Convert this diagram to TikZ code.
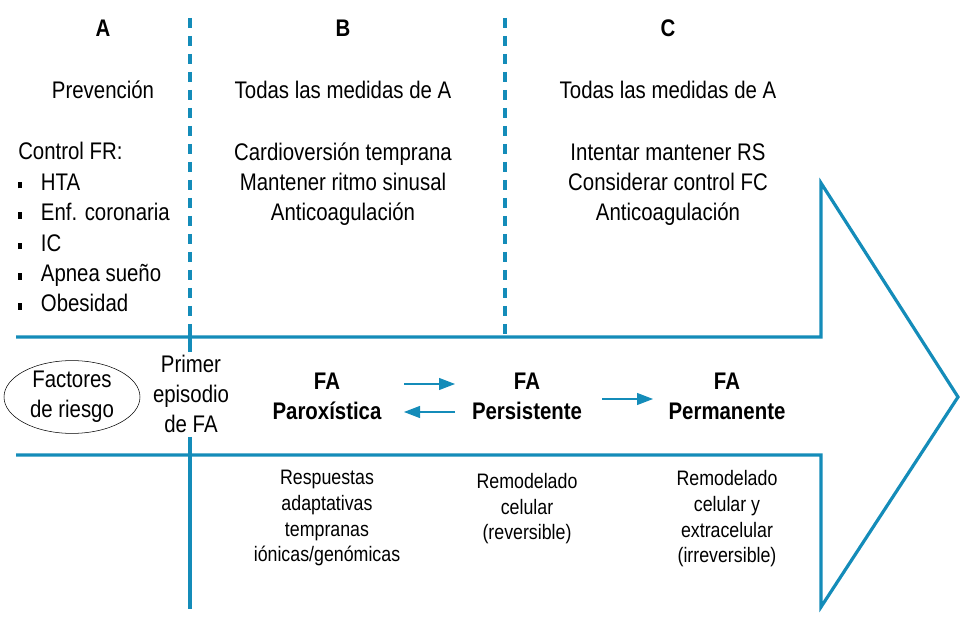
\documentclass[tikz,border=0pt]{standalone}
\usepackage{fontspec}
\setmainfont[FakeStretch=0.85]{Liberation Sans}
\usetikzlibrary{arrows.meta,shapes.geometric}
\definecolor{azul}{RGB}{20,140,185}
\newcommand{\bala}{\makebox[17pt][l]{\rule[1.5pt]{3pt}{5pt}}}

\begin{document}
\begin{tikzpicture}[x=0.75pt,y=-0.75pt,
  linea/.style={azul,line width=2.4pt},
  guion/.style={azul,line width=2.4pt,dash pattern=on 7.5pt off 6pt},
  flecha/.style={azul,line width=0.8pt,-{Triangle[length=12pt,width=9pt]}},
  titulo/.style={font=\fontsize{18}{22.8}\selectfont\bfseries,inner sep=0pt,anchor=base},
  texto/.style={font=\fontsize{18}{22.8}\selectfont,align=center,inner sep=0pt,anchor=base},
  fase/.style={font=\fontsize{18}{22.5}\selectfont\bfseries,align=center,inner sep=0pt,anchor=base},
  nota/.style={font=\fontsize{15.7}{19.3}\selectfont,align=center,inner sep=0pt,anchor=base}]

  \useasboundingbox (0,0) rectangle (979,634);

  % Draw the big arrow
  \draw[linea,line join=miter] (16,337) -- (821,337) -- (821,183) -- (958,397)
    -- (821,607) -- (821,455) -- (16,455);

  % Draw the separators
  \draw[guion] (190,18) -- (190,335);
  \draw[guion] (505,18) -- (505,335);
  \draw[linea] (190,327) -- (190,352);
  \draw[linea] (190,437) -- (190,609);

  % Column headers
  \node[titulo] (colA) at (103,37) {A};
  \node[titulo] (colB) at (343,37) {B};
  \node[titulo] (colC) at (668,37) {C};

  % Column A (multi-line nodes sit on their last baseline)
  \node[texto] (prev) at (103,99) {Prevención};
  \node[texto,align=left,anchor=base west] (control) at (18,312) {Control FR:\\
    \bala HTA\\ \bala Enf. coronaria\\ \bala IC\\ \bala Apnea sueño\\ \bala Obesidad};

  % Column B
  \node[texto] (todasB) at (343,99) {Todas las medidas de A};
  \node[texto] (medB) at (343,221) {Cardioversión temprana\\ Mantener ritmo sinusal\\ Anticoagulación};

  % Column C
  \node[texto] (todasC) at (668,99) {Todas las medidas de A};
  \node[texto] (medC) at (668,221) {Intentar mantener RS\\ Considerar control FC\\ Anticoagulación};

  % Inside the arrow
  \node[ellipse,draw,thin,minimum width=102pt,minimum height=49.5pt,inner sep=0pt,align=center,
    font=\fontsize{18}{22.5}\selectfont] (factores) at (72,397) {Factores\\ de riesgo};
  \node[texto] (primer) at (191,433) {Primer\\ episodio\\ de FA};
  \node[fase] (parox) at (327,420) {FA\\ Paroxística};
  \node[fase] (persist) at (527,420) {FA\\ Persistente};
  \node[fase] (perm) at (727,420) {FA\\ Permanente};

  % Arrows between stages
  \coordinate (ida1) at (404,384);
  \coordinate (ida2) at (455,384);
  \coordinate (vuelta1) at (455,412);
  \coordinate (vuelta2) at (404,412);
  \coordinate (paso1) at (602,399);
  \coordinate (paso2) at (653,399);
  \draw[flecha] (ida1) -- (ida2);
  \draw[flecha] (vuelta1) -- (vuelta2);
  \draw[flecha] (paso1) -- (paso2);

  % Below the arrow
  \node[nota] (resp) at (327,562) {Respuestas\\ adaptativas\\ tempranas\\ iónicas/genómicas};
  \node[nota] (remod1) at (527,540) {Remodelado\\ celular\\ (reversible)};
  \node[nota] (remod2) at (727,563) {Remodelado\\ celular y\\ extracelular\\ (irreversible)};
\end{tikzpicture}
\end{document}
